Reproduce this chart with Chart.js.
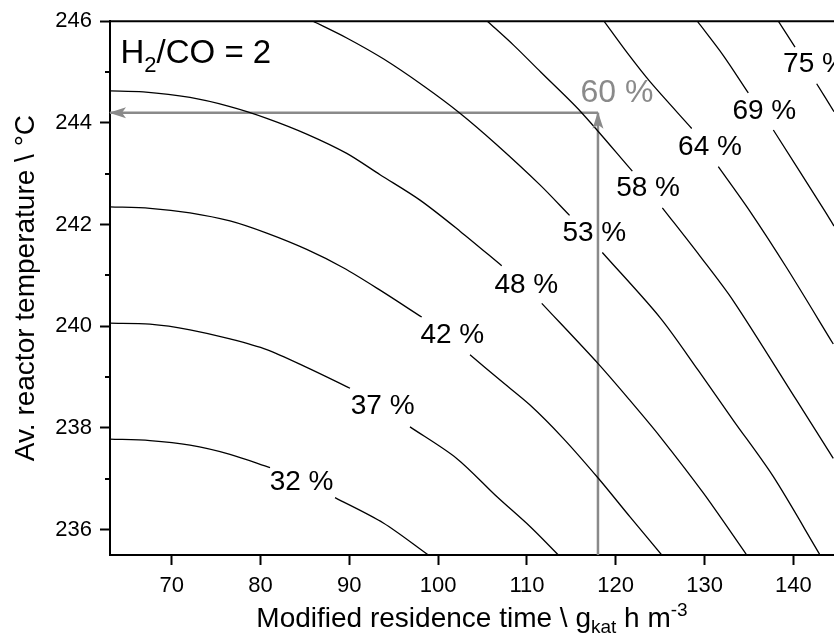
<!DOCTYPE html>
<html><head><meta charset="utf-8">
<script src="https://cdn.jsdelivr.net/npm/chart.js@4.4.1/dist/chart.umd.min.js"></script>
<style>html,body{margin:0;padding:0;background:#fff;}#wrap{width:834px;height:637px;}</style>
</head><body><div id="wrap"><canvas id="c" width="834" height="637"></canvas></div>
<script>
// ---- axes ----
const xTicks = [70, 80, 90, 100, 110, 120, 130, 140];
const yTicks = [236, 238, 240, 242, 244, 246];
const yMinorTicks = [237, 239, 241, 243, 245];
const xRange = [63.05, 144.58];
const yRange = [235.5, 246];

// ---- contour lines (null = gap for the label) ----
const c32x = [63.0, 67.55, 72.06, 76.56, 81.07, null, 88.39, 93.83, 98.9];
const c32y = [237.78, 237.75, 237.66, 237.48, 237.22, null, 236.63, 236.13, 235.5];
const c37x = [63.0, 67.55, 72.06, 76.56, 80.7, 85.2, 90.08, null, 96.83, 102.09, 106.6, 110.35, 113.54];
const c37y = [240.06, 240.04, 239.93, 239.75, 239.54, 239.19, 238.78, null, 238.02, 237.40, 236.65, 236.06, 235.5];
const c42x = [63.0, 67.55, 72.06, 76.56, 80.7, 85.2, 89.32, 93.46, 98.15, null, 103.59, 106.97, 110.35, 114.06, 118.04, 121.61, 125.18];
const c42y = [242.35, 242.32, 242.23, 242.07, 241.83, 241.51, 241.15, 240.71, 240.18, null, 239.44, 238.94, 238.45, 237.80, 237.01, 236.25, 235.5];
const c48x = [63.0, 66.8, 72.06, 76.56, 80.7, 85.2, 89.71, 93.46, 97.96, 102.46, 107.16, null, 111.67, 118.04, 121.61, 124.99, 129.86, 134.75];
const c48y = [244.63, 244.61, 244.50, 244.32, 244.09, 243.78, 243.40, 242.98, 242.48, 241.87, 241.19, null, 240.45, 239.26, 238.54, 237.83, 236.72, 235.5];
const c53x = [85.91, 89.71, 93.83, 98.33, 102.46, 106.6, 111.47, 114.8, null, 118.49, 124.99, 129.3, 133.24, 137.75, 143.01];
const c53y = [246.0, 245.67, 245.26, 244.73, 244.19, 243.57, 242.78, 242.18, null, 241.45, 240.17, 239.13, 238.15, 237.04, 235.5];
const c58x = [105.54, 108.55, 111.55, 116.06, 121.87, null, 125.25, 129.49, 133.24, 140.38, 144.5];
const c58y = [246.0, 245.52, 245.0, 244.22, 243.05, null, 242.33, 241.38, 240.5, 238.54, 237.40];
const c64x = [118.68, 121.24, 123.86, 128.56, null, 131.55, 135.12, 139.25, 144.5];
const c64y = [246.0, 245.39, 244.81, 243.89, null, 243.14, 242.26, 241.15, 239.65];
const c69x = [129.19, 132.1, 134.93, null, 137.75, 143.57, 144.58];
const c69y = [246.0, 245.33, 244.59, null, 243.86, 242.26, 241.97];
const c75x = [138.31, 140.19, null, 142.63, 144.58];
const c75y = [246.0, 245.49, null, 244.77, 244.22];

// ---- contour labels ----
const labelText = ['32 %', '37 %', '42 %', '48 %', '53 %', '58 %', '64 %', '69 %', '75 %'];
const labelX = [84.62, 93.76, 101.6, 109.93, 117.59, 123.64, 130.62, 136.73, 142.44];
const labelY = [236.98, 238.47, 239.86, 240.86, 241.87, 242.75, 243.56, 244.27, 245.19];

// ---- read-off guide ----
const readX = 118;
const readY = 244.2;
const readLabel = '60 %';
const readLabelX = 120.14;
const readLabelY = 244.63;

const FONT = '"Liberation Sans", Arial, Helvetica, sans-serif';
const GRAY = '#8a8a8a';

function pts(xs, ys) { return xs.map((v, i) => ({ x: v, y: ys[i] })); }
const contours = [[c32x, c32y], [c37x, c37y], [c42x, c42y], [c48x, c48y], [c53x, c53y],
                  [c58x, c58y], [c64x, c64y], [c69x, c69y], [c75x, c75y]];

const datasets = contours.map((c, i) => ({
  label: labelText[i], data: pts(c[0], c[1]), showLine: true, spanGaps: false,
  borderColor: '#000', borderWidth: 1.3, pointRadius: 0, tension: 0.3, fill: false
}));
datasets.push({ label: 'vertical guide', data: [{ x: readX, y: yRange[0] }, { x: readX, y: readY }],
  showLine: true, borderColor: GRAY, borderWidth: 2.5, pointRadius: 0, arrow: true });
datasets.push({ label: 'horizontal guide', data: [{ x: readX, y: readY }, { x: xRange[0], y: readY }],
  showLine: true, borderColor: GRAY, borderWidth: 2.5, pointRadius: 0, arrow: true });

function drawRich(ctx, parts, x, y, align) {
  let total = 0;
  parts.forEach(p => { ctx.font = p.s + 'px ' + FONT; p.w = ctx.measureText(p.t).width; total += p.w; });
  let cx = align === 'center' ? x - total / 2 : x;
  ctx.textAlign = 'left'; ctx.textBaseline = 'alphabetic';
  parts.forEach(p => { ctx.font = p.s + 'px ' + FONT; ctx.fillText(p.t, cx, y + (p.dy || 0)); cx += p.w; });
}

const annot = {
  id: 'annot',
  afterDatasetsDraw(chart) {
    const { ctx, scales: { x, y } } = chart;
    ctx.save();
    chart.data.datasets.forEach((ds, i) => {
      if (!ds.arrow) return;
      const d = chart.getDatasetMeta(i).data;
      const p1 = d[d.length - 2], p2 = d[d.length - 1];
      const ang = Math.atan2(p2.y - p1.y, p2.x - p1.x);
      ctx.save(); ctx.translate(p2.x, p2.y); ctx.rotate(ang);
      ctx.beginPath(); ctx.moveTo(1, 0); ctx.lineTo(-16, -5.5); ctx.lineTo(-12, 0); ctx.lineTo(-16, 5.5); ctx.closePath();
      ctx.fillStyle = ds.borderColor; ctx.fill(); ctx.restore();
    });
    ctx.fillStyle = '#000'; ctx.textAlign = 'center'; ctx.textBaseline = 'alphabetic';
    ctx.font = '28px ' + FONT;
    labelText.forEach((t, i) => {
      ctx.fillText(t, x.getPixelForValue(labelX[i]), y.getPixelForValue(labelY[i]) + 0.716 * 28 / 2);
    });
    ctx.fillStyle = GRAY; ctx.font = '32px ' + FONT;
    ctx.fillText(readLabel, x.getPixelForValue(readLabelX), y.getPixelForValue(readLabelY) + 0.716 * 32 / 2);
    ctx.restore();
  },
  afterDraw(chart) {
    const { ctx, chartArea: a, scales: { y } } = chart;
    ctx.save();
    ctx.strokeStyle = '#000'; ctx.lineWidth = 2;
    ctx.beginPath(); ctx.moveTo(a.left - 1, a.top); ctx.lineTo(a.right, a.top); ctx.stroke();
    yMinorTicks.forEach(v => {
      const py = Math.round(y.getPixelForValue(v));
      ctx.beginPath(); ctx.moveTo(a.left - 5, py); ctx.lineTo(a.left, py); ctx.stroke();
    });
    ctx.fillStyle = '#000';
    drawRich(ctx, [{ t: 'Modified residence time \\ g', s: 28 }, { t: 'kat', s: 19, dy: 6 },
                   { t: ' h m', s: 28 }, { t: '-3', s: 19, dy: -11 }], (a.left + a.right) / 2, 627, 'center');
    drawRich(ctx, [{ t: 'H', s: 33 }, { t: '2', s: 22, dy: 9 }, { t: '/CO = 2', s: 33 }], a.left + 10.5, a.top + 42, 'left');
    ctx.restore();
  }
};

new Chart(document.getElementById('c'), {
  type: 'scatter',
  data: { datasets },
  options: {
    responsive: false, animation: false, devicePixelRatio: 1,
    layout: { padding: { top: 19, right: 0, left: 0, bottom: 0 } },
    plugins: { legend: { display: false }, tooltip: { enabled: false } },
    scales: {
      x: {
        type: 'linear', min: xRange[0], max: xRange[1],
        afterBuildTicks: s => { s.ticks = xTicks.map(v => ({ value: v })); },
        afterFit: s => { s.height = 82; },
        ticks: { font: { family: FONT, size: 22 }, color: '#000', padding: 8, maxRotation: 0, autoSkip: false, callback: v => String(v) },
        grid: { display: true, drawOnChartArea: false, drawTicks: true, tickLength: 10, tickColor: '#000', tickWidth: 2 },
        border: { display: true, color: '#000', width: 2 },
        title: { display: false }
      },
      y: {
        type: 'linear', min: yRange[0], max: yRange[1],
        afterBuildTicks: s => { s.ticks = yTicks.map(v => ({ value: v })); },
        afterFit: s => { s.width = 110; },
        ticks: { font: { family: FONT, size: 22 }, color: '#000', padding: 8, autoSkip: false, callback: v => String(v) },
        grid: { display: true, drawOnChartArea: false, drawTicks: true, tickLength: 10, tickColor: '#000', tickWidth: 2 },
        border: { display: true, color: '#000', width: 2 },
        title: { display: true, text: 'Av. reactor temperature \\ °C', color: '#000', font: { family: FONT, size: 28 }, padding: { top: 9, bottom: 0 } }
      }
    }
  },
  plugins: [annot]
});
</script></body></html>
